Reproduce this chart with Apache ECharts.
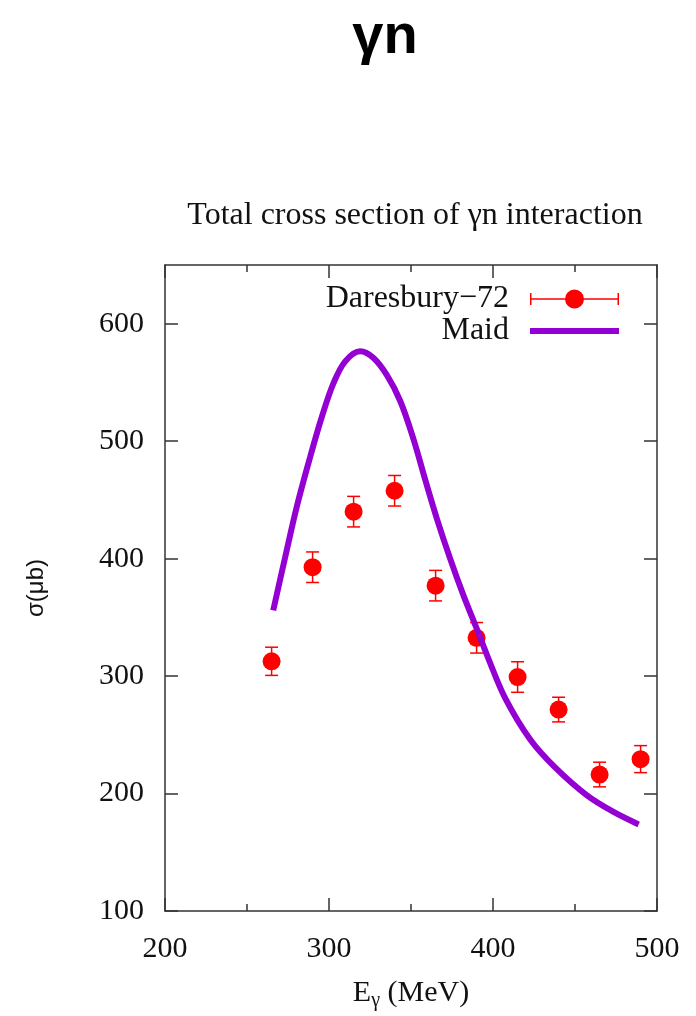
<!DOCTYPE html>
<html><head><meta charset="utf-8">
<script src="https://cdn.jsdelivr.net/npm/echarts@6/dist/echarts.min.js"></script>
<style>html,body{margin:0;padding:0;background:#fff}#c{width:696px;height:1016px}</style>
</head><body><div id="c"></div>
<script>
// Daresbury-72 measurements
const energies = [265, 290, 315, 340, 365, 390, 415, 440, 465, 490];
const sigma    = [312.6, 392.7, 440, 457.8, 377, 332.6, 299.2, 271.5, 216.2, 229.3];
const errors   = [12, 13, 13, 13, 13, 13, 13, 10.5, 10.5, 11.5];
// Maid curve
const maidE = [266, 273.4, 280.5, 288.6, 295.7, 302.8, 309.9, 319, 327, 335.4, 343.5, 351.6, 358.7, 365.9, 374, 382.1, 390.2, 397.3, 407.5, 422.7, 438, 457.3, 473.5, 488.8];
const maidS = [356, 402, 445, 487, 521, 549.6, 568, 576.5, 571, 556, 534, 501.4, 467, 433.5, 399.5, 368.3, 340, 314.5, 281, 246, 222, 198.4, 184.3, 173.7];
// ticks
const xTicks = [200, 300, 400, 500];
const yTicks = [100, 200, 300, 400, 500, 600];

const frame = '#333';
const serif = 'Liberation Serif';
const axisCommon = (pos, showLabel) => ({
  position: pos,
  axisLine: {show: true, onZero: false, lineStyle: {color: frame, width: 1.5}},
  axisTick: {show: true, inside: true, length: 13, lineStyle: {color: frame, width: 1.5}},
  splitLine: {show: false},
  axisLabel: {show: showLabel, fontFamily: serif, fontSize: 30, color: '#111'}
});

const chart = echarts.init(document.getElementById('c'), null, {renderer: 'canvas'});
const xa = (pos, showLabel) => {
  const a = axisCommon(pos, showLabel);
  a.type = 'value'; a.min = 200; a.max = 500; a.interval = 100;
  a.minorTick = {show: true, splitNumber: 2, length: 7, lineStyle: {color: frame, width: 1.5}};
  a.axisLabel.margin = 23;
  return a;
};
const ya = (pos, showLabel) => {
  const a = axisCommon(pos, showLabel);
  a.type = 'value'; a.min = 100; a.max = 650;
  a.axisTick.customValues = yTicks;
  a.axisLabel.customValues = yTicks;
  a.axisLabel.margin = 21;
  return a;
};
const xBottom = xa('bottom', true);
xBottom.name = '{e|E}{s|γ}{e| (MeV)}';
xBottom.nameLocation = 'middle';
xBottom.nameGap = 64;
xBottom.nameTextStyle = {rich: {
  e: {fontFamily: serif, fontSize: 30, color: '#111'},
  s: {fontFamily: serif, fontSize: 20, color: '#111', padding: [16, 0, 0, 0]}
}};
const yLeft = ya('left', true);
yLeft.name = 'σ(μb)';
yLeft.nameLocation = 'middle';
yLeft.nameRotate = 90;
yLeft.nameGap = 117;
yLeft.nameTextStyle = {fontFamily: 'Liberation Sans', fontSize: 24, color: '#111'};

const dIcon = 'path://M0,8.75H89V10.25H0Z M0,3.5H1.5V15.5H0Z M87.5,3.5H89V15.5H87.5Z M35,9.5A9.5,9.5 0 1 1 54,9.5A9.5,9.5 0 1 1 35,9.5Z';
const mIcon = 'path://M0,0H89V6H0Z';

chart.setOption({
  animation: false,
  backgroundColor: '#fff',
  title: [
    {text: 'γn', left: 380, textAlign: 'center', top: 5,
     textStyle: {fontFamily: 'Liberation Sans', fontWeight: 'bold', fontSize: 56, color: '#000'}},
    {text: 'Total cross section of γn interaction', left: 410, textAlign: 'center', top: 195,
     textStyle: {fontFamily: serif, fontWeight: 'normal', fontSize: 32, color: '#111'}}
  ],
  grid: {left: 165, right: 39, top: 265, bottom: 104, containLabel: false},
  legend: {
    orient: 'vertical', align: 'right', right: 72, top: 278, itemGap: 0,
    itemWidth: 89, itemHeight: 19, selectedMode: false, symbolKeepAspect: true,
    textStyle: {fontFamily: serif, fontSize: 32, color: '#111', lineHeight: 30, padding: [0, 16, 0, 0]},
    data: [
      {name: 'Daresbury−72', icon: dIcon, itemStyle: {color: '#ff0000', borderWidth: 0, opacity: 1}},
      {name: 'Maid', icon: mIcon, itemStyle: {color: '#9400d3', borderWidth: 0, opacity: 1}}
    ]
  },
  xAxis: [xBottom, xa('top', false)],
  yAxis: [yLeft, ya('right', false)],
  series: [
    {
      name: 'Daresbury−72', type: 'scatter', symbol: 'circle', symbolSize: 18,
      itemStyle: {color: '#ff0000', borderWidth: 0, opacity: 1},
      data: energies.map((e, i) => [e, sigma[i]]), z: 3
    },
    {
      name: 'errors', type: 'custom', z: 3,
      data: energies.map((e, i) => [e, sigma[i], errors[i]]),
      renderItem: function (params, api) {
        const x = api.value(0), y = api.value(1), er = api.value(2);
        const lo = api.coord([x, y - er]), hi = api.coord([x, y + er]);
        const cw = 6.5, st = {stroke: '#ff0000', lineWidth: 1.5};
        return {type: 'group', children: [
          {type: 'line', shape: {x1: lo[0], y1: lo[1], x2: hi[0], y2: hi[1]}, style: st},
          {type: 'line', shape: {x1: lo[0] - cw, y1: lo[1], x2: lo[0] + cw, y2: lo[1]}, style: st},
          {type: 'line', shape: {x1: hi[0] - cw, y1: hi[1], x2: hi[0] + cw, y2: hi[1]}, style: st}
        ]};
      }
    },
    {
      name: 'Maid', type: 'line', smooth: 0.35, showSymbol: false, symbol: 'none', z: 4,
      lineStyle: {color: '#9400d3', width: 6},
      itemStyle: {color: '#9400d3'},
      data: maidE.map((e, i) => [e, maidS[i]])
    }
  ]
});
</script>
</body></html>
